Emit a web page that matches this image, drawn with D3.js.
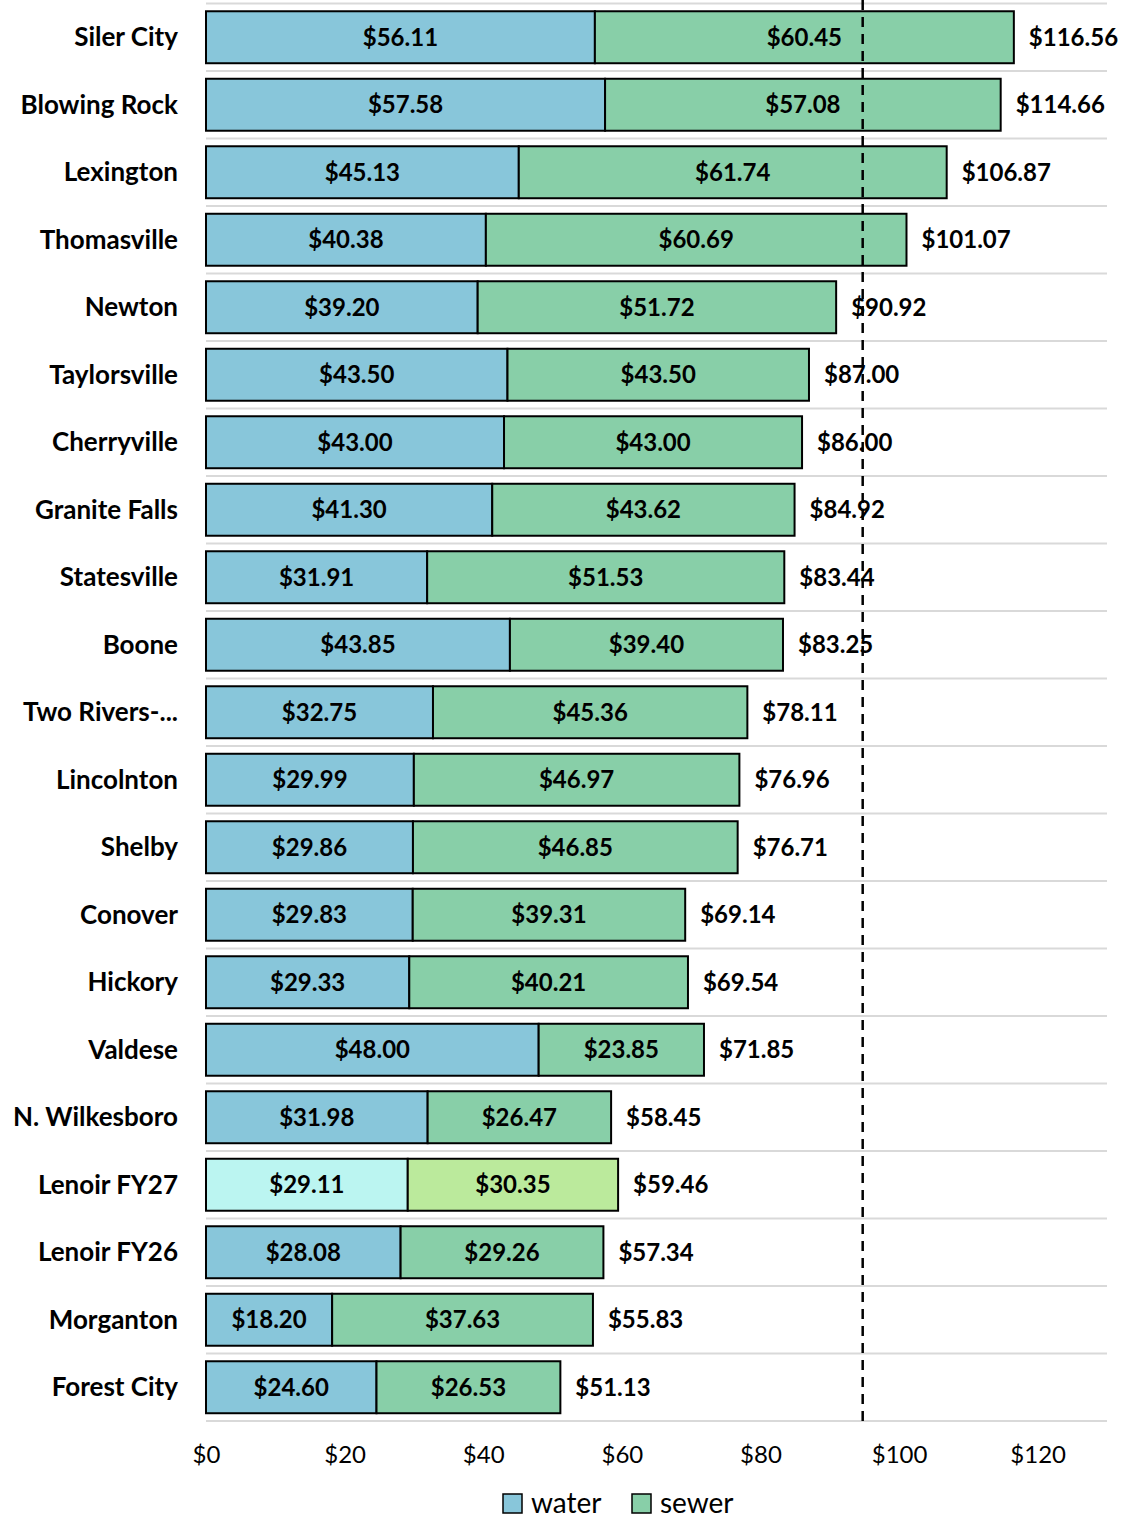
<!DOCTYPE html>
<meta charset="utf-8">
<style>
  body { margin: 0; background: #fff; }
  text { font-family: Lato, "Open Sans", sans-serif; }
</style>
<svg width="1125" height="1517"></svg>
<script src="https://d3js.org/d3.v7.min.js"></script>
<script>

var towns = ["Siler City", "Blowing Rock", "Lexington", "Thomasville", "Newton",
    "Taylorsville", "Cherryville", "Granite Falls", "Statesville", "Boone",
    "Two Rivers-...", "Lincolnton", "Shelby", "Conover", "Hickory", "Valdese",
    "N. Wilkesboro", "Lenoir FY27", "Lenoir FY26", "Morganton", "Forest City"];

var water = [56.11, 57.58, 45.13, 40.38, 39.20, 43.50, 43.00, 41.30, 31.91, 43.85,
    32.75, 29.99, 29.86, 29.83, 29.33, 48.00, 31.98, 29.11, 28.08, 18.20, 24.60];

var sewer = [60.45, 57.08, 61.74, 60.69, 51.72, 43.50, 43.00, 43.62, 51.53, 39.40,
    45.36, 46.97, 46.85, 39.31, 40.21, 23.85, 26.47, 30.35, 29.26, 37.63, 26.53];

var totals = [116.56, 114.66, 106.87, 101.07, 90.92, 87.00, 86.00, 84.92, 83.44, 83.25,
    78.11, 76.96, 76.71, 69.14, 69.54, 71.85, 58.45, 59.46, 57.34, 55.83, 51.13];

var xTicks = [0, 20, 40, 60, 80, 100, 120];
var reference = 94.75;
var highlight = "Lenoir FY27";

var svg = d3.select("svg"),
    plotLeft = 206, plotRight = 1107, plotTop = 3.5, plotBottom = 1421;

var x = d3.scaleLinear().domain([0, 130]).range([plotLeft, plotRight]);

var y = d3.scaleBand()
    .domain(towns)
    .range([plotTop, plotBottom])
    .paddingInner(0.23)
    .paddingOuter(0.115);

var colors = {
  water: "#88c6da", sewer: "#88cfa8",
  waterHi: "#bbf5f1", sewerHi: "#bbea9c"
};

// row separators
var edges = d3.range(towns.length + 1).map(function(i) { return plotTop + i * y.step(); });
svg.append("g").selectAll("line")
    .data(edges)
  .enter().append("line")
    .attr("x1", plotLeft).attr("x2", plotRight)
    .attr("y1", function(d) { return d; })
    .attr("y2", function(d) { return d; })
    .attr("stroke", "#d9d9d9")
    .attr("stroke-width", 2);

var rows = towns.map(function(t, i) {
  return {town: t, water: water[i], sewer: sewer[i], total: totals[i]};
});

var g = svg.append("g").selectAll("g")
    .data(rows)
  .enter().append("g")
    .attr("transform", function(d) { return "translate(0," + y(d.town) + ")"; });

var h = y.bandwidth();

g.append("rect")
    .attr("x", x(0))
    .attr("width", function(d) { return x(d.water) - x(0); })
    .attr("height", h)
    .attr("fill", function(d) { return d.town === highlight ? colors.waterHi : colors.water; })
    .attr("stroke", "#000")
    .attr("stroke-width", 2);

g.append("rect")
    .attr("x", function(d) { return x(d.water); })
    .attr("width", function(d) { return x(d.water + d.sewer) - x(d.water); })
    .attr("height", h)
    .attr("fill", function(d) { return d.town === highlight ? colors.sewerHi : colors.sewer; })
    .attr("stroke", "#000")
    .attr("stroke-width", 2);

var fmt = function(v) { return "$" + v.toFixed(2); };

g.append("text")
    .attr("x", function(d) { return (x(0) + x(d.water)) / 2; })
    .attr("y", h / 2)
    .attr("dy", "0.35em")
    .attr("text-anchor", "middle")
    .attr("font-size", 24)
    .attr("font-weight", "bold")
    .text(function(d) { return fmt(d.water); });

g.append("text")
    .attr("x", function(d) { return (x(d.water) + x(d.water + d.sewer)) / 2; })
    .attr("y", h / 2)
    .attr("dy", "0.35em")
    .attr("text-anchor", "middle")
    .attr("font-size", 24)
    .attr("font-weight", "bold")
    .text(function(d) { return fmt(d.sewer); });

g.append("text")
    .attr("x", function(d) { return x(d.water + d.sewer) + 15; })
    .attr("y", h / 2)
    .attr("dy", "0.35em")
    .attr("font-size", 24)
    .attr("font-weight", "bold")
    .text(function(d) { return fmt(d.total); });

// category labels
g.append("text")
    .attr("x", 178)
    .attr("y", h / 2)
    .attr("dy", "0.35em")
    .attr("text-anchor", "end")
    .attr("font-size", 26)
    .attr("font-weight", "bold")
    .text(function(d) { return d.town; });

// reference line
svg.append("line")
    .attr("x1", x(reference)).attr("x2", x(reference))
    .attr("y1", 0).attr("y2", plotBottom)
    .attr("stroke", "#000")
    .attr("stroke-width", 2.5)
    .attr("stroke-dasharray", "10,7");

// x axis
var axis = svg.append("g")
    .attr("transform", "translate(0," + plotBottom + ")")
    .call(d3.axisBottom(x).tickValues(xTicks).tickSize(0).tickPadding(25)
      .tickFormat(function(d) { return "$" + d; }));
axis.select(".domain").remove();
axis.selectAll("text")
    .attr("font-size", 24)
    .attr("fill", "#000")
    .style("font-family", "Lato, 'Open Sans', sans-serif");

// legend
var legend = svg.append("g").selectAll("g")
    .data([["water", colors.water, 503], ["sewer", colors.sewer, 632]])
  .enter().append("g")
    .attr("transform", function(d) { return "translate(" + d[2] + ",1494)"; });

legend.append("rect")
    .attr("width", 19).attr("height", 19)
    .attr("fill", function(d) { return d[1]; })
    .attr("stroke", "#000")
    .attr("stroke-width", 1.5);

legend.append("text")
    .attr("x", 28)
    .attr("y", 9)
    .attr("dy", "0.35em")
    .attr("font-size", 28)
    .text(function(d) { return d[0]; });

</script>
